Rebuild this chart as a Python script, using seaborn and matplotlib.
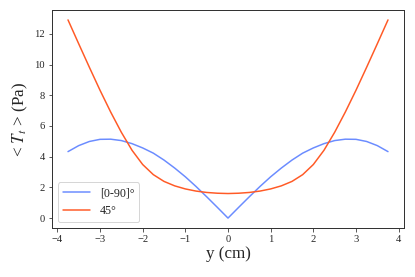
import numpy as np
import pandas as pd
import matplotlib
matplotlib.use("Agg")
import matplotlib.pyplot as plt
import seaborn as sns

# half profiles, y >= 0 (curves are symmetric about y = 0)
y_half = [0.0, 0.25, 0.5, 0.75, 1.0, 1.25, 1.5, 1.75, 2.0, 2.25, 2.5, 2.75, 3.0, 3.25, 3.5, 3.75]
t_0_90 = [0.0, 0.70, 1.39, 2.06, 2.69, 3.26, 3.78, 4.23, 4.57, 4.85, 5.05, 5.14, 5.13, 4.99, 4.72, 4.33]
t_45 = [1.60, 1.62, 1.67, 1.76, 1.90, 2.10, 2.39, 2.83, 3.49, 4.42, 5.59, 6.91, 8.33, 9.83, 11.36, 12.91]
labels = ["[0-90]°", "45°"]
colors = ["#6b8cff", "#ff5a26"]

y_full = [-v for v in y_half[:0:-1]] + y_half
rows = []
for lab, half in zip(labels, [t_0_90, t_45]):
    vals = half[:0:-1] + half
    for y, t in zip(y_full, vals):
        rows.append({"y": y, "T": t, "case": lab})
df = pd.DataFrame(rows)

sns.set_style("ticks")
plt.rcParams["font.family"] = ["Liberation Serif", "DejaVu Sans"]
plt.rcParams["mathtext.fontset"] = "stix"

fig = plt.figure(figsize=(415 / 72, 277 / 72), dpi=72)
ax = fig.add_axes([52 / 415, 1 - 228 / 277, 352 / 415, 218 / 277])

sns.lineplot(data=df, x="y", y="T", hue="case", palette=colors, ax=ax,
             linewidth=1.5, sort=False, estimator=None)

ax.set_xlabel("y (cm)", fontsize=17, labelpad=2)
ax.set_ylabel("< $T_t$ > (Pa)", fontsize=17, labelpad=4)
ax.set_xticks([-4, -3, -2, -1, 0, 1, 2, 3, 4])
ax.set_yticks([0, 2, 4, 6, 8, 10, 12])
ax.tick_params(labelsize=10.5, length=3.5, width=0.8, color="#333333")
for s in ax.spines.values():
    s.set_color("#333333")
    s.set_linewidth(1.0)

leg = ax.legend(loc="lower left", fontsize=12, frameon=True, handlelength=2.3)
leg.get_frame().set_edgecolor("#cccccc")

fig.savefig("out.png", dpi=72)
